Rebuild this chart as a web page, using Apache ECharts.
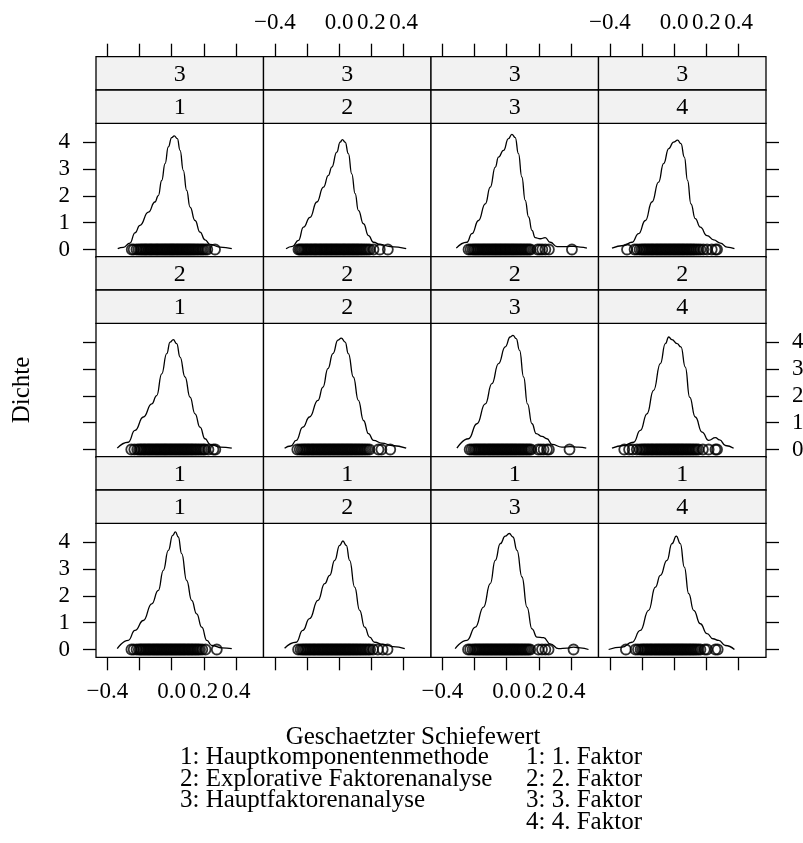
<!DOCTYPE html>
<html>
<head>
<meta charset="utf-8">
<script src="https://cdn.jsdelivr.net/npm/echarts@6/dist/echarts.min.js"></script>
<style>
html,body{margin:0;padding:0;background:#fff;}
#chart{width:803px;height:843px;}
</style>
</head>
<body>
<div id="chart"></div>
<script>
// ---------- labels ----------
const methodLabels = ['3', '2', '1'];          // strip 1, rows top -> bottom
const factorLabels = ['1', '2', '3', '4'];     // strip 2, columns left -> right
const xTicks = [-0.4, -0.2, 0, 0.2, 0.4];
const xTickLabels = [-0.4, 0, 0.2, 0.4];
const yTicks = [0, 1, 2, 3, 4];
const xTitle = 'Geschaetzter Schiefewert';
const yTitle = 'Dichte';
const methodKey = ['1: Hauptkomponentenmethode', '2: Explorative Faktorenanalyse', '3: Hauptfaktorenanalyse'];
const factorKey = ['1: 1. Faktor', '2: 2. Faktor', '3: 3. Faktor', '4: 4. Faktor'];

// ---------- density curves [x, density] ----------
const curveM3F1 = [[-0.335,0.03],[-0.3,0.08],[-0.259,0.24],[-0.228,0.62],[-0.197,0.9],[-0.145,1.39],[-0.104,1.77],[-0.083,2.01],[-0.062,2.57],[-0.041,3.2],[-0.021,3.82],[0.0,4.17],[0.016,4.23],[0.035,4.13],[0.052,3.69],[0.072,2.95],[0.093,2.2],[0.114,1.58],[0.145,1.08],[0.176,0.65],[0.207,0.36],[0.238,0.19],[0.3,0.09],[0.373,0.03]];
const curveM3F2 = [[-0.33,0.03],[-0.29,0.12],[-0.253,0.34],[-0.222,0.83],[-0.181,1.2],[-0.139,1.77],[-0.098,2.32],[-0.067,2.76],[-0.046,3.07],[-0.015,3.63],[0.006,4.0],[0.02,4.09],[0.037,4.0],[0.057,3.57],[0.078,2.82],[0.099,2.08],[0.119,1.46],[0.151,0.96],[0.182,0.52],[0.213,0.27],[0.254,0.19],[0.316,0.11],[0.416,0.03]];
const curveM3F3 = [[-0.313,0.05],[-0.247,0.27],[-0.216,0.59],[-0.175,1.08],[-0.133,1.7],[-0.102,2.32],[-0.071,3.07],[-0.051,3.44],[-0.02,3.69],[0.011,4.13],[0.032,4.29],[0.053,4.17],[0.073,3.57],[0.094,2.7],[0.115,1.83],[0.136,1.21],[0.157,0.71],[0.177,0.44],[0.208,0.4],[0.239,0.44],[0.27,0.27],[0.312,0.11],[0.374,0.11],[0.415,0.12],[0.457,0.09],[0.498,0.05]];
const curveM3F4 = [[-0.386,0.05],[-0.314,0.15],[-0.262,0.27],[-0.221,0.59],[-0.179,1.08],[-0.138,1.77],[-0.097,2.51],[-0.066,3.2],[-0.034,3.76],[-0.004,4.0],[0.021,4.07],[0.042,3.94],[0.063,3.44],[0.083,2.57],[0.104,1.7],[0.131,1.15],[0.162,0.83],[0.204,0.52],[0.245,0.36],[0.287,0.24],[0.328,0.09],[0.374,0.03]];
const curveM2F1 = [[-0.338,0.05],[-0.27,0.27],[-0.228,0.71],[-0.176,1.21],[-0.124,1.7],[-0.093,2.01],[-0.062,2.82],[-0.031,3.57],[-0.01,4.0],[0.01,4.09],[0.031,3.94],[0.052,3.44],[0.083,2.7],[0.114,1.95],[0.145,1.33],[0.176,0.83],[0.207,0.4],[0.238,0.19],[0.3,0.09],[0.373,0.05]];
const curveM2F2 = [[-0.339,0.05],[-0.3,0.13],[-0.267,0.34],[-0.226,0.83],[-0.184,1.21],[-0.132,1.83],[-0.101,2.32],[-0.07,3.01],[-0.039,3.57],[-0.008,4.07],[0.013,4.15],[0.037,4.0],[0.057,3.57],[0.088,2.7],[0.119,1.83],[0.151,1.08],[0.182,0.59],[0.213,0.34],[0.265,0.24],[0.327,0.15],[0.416,0.05]];
const curveM2F3 = [[-0.309,0.05],[-0.237,0.4],[-0.185,0.96],[-0.133,1.7],[-0.092,2.45],[-0.051,3.2],[-0.009,3.82],[0.022,4.19],[0.039,4.25],[0.059,4.13],[0.08,3.69],[0.105,2.7],[0.129,1.7],[0.157,0.96],[0.183,0.59],[0.219,0.49],[0.25,0.4],[0.281,0.19],[0.343,0.09],[0.395,0.11],[0.446,0.09],[0.494,0.05]];
const curveM2F4 = [[-0.386,0.05],[-0.314,0.15],[-0.252,0.27],[-0.21,0.71],[-0.169,1.33],[-0.128,2.2],[-0.086,3.2],[-0.055,3.94],[-0.034,4.19],[-0.014,4.09],[0.018,3.94],[0.042,3.82],[0.069,3.07],[0.096,1.95],[0.131,1.21],[0.173,0.65],[0.214,0.34],[0.256,0.44],[0.282,0.36],[0.318,0.15],[0.369,0.05]];
const curveM1F1 = [[-0.338,0.03],[-0.27,0.34],[-0.228,0.71],[-0.176,1.08],[-0.124,1.7],[-0.083,2.2],[-0.052,2.95],[-0.021,3.69],[0.006,4.25],[0.023,4.38],[0.041,4.19],[0.062,3.57],[0.093,2.57],[0.124,1.83],[0.155,1.33],[0.187,0.83],[0.218,0.34],[0.249,0.15],[0.311,0.06],[0.373,0.03]];
const curveM1F2 = [[-0.339,0.05],[-0.267,0.27],[-0.226,0.71],[-0.184,1.15],[-0.132,1.83],[-0.09,2.45],[-0.059,2.76],[-0.028,3.32],[0.003,3.88],[0.023,4.04],[0.044,3.88],[0.065,3.32],[0.096,2.32],[0.127,1.46],[0.158,0.83],[0.189,0.46],[0.22,0.27],[0.272,0.19],[0.334,0.11],[0.407,0.03]];
const curveM1F3 = [[-0.32,0.03],[-0.247,0.34],[-0.195,0.83],[-0.144,1.58],[-0.102,2.45],[-0.071,3.32],[-0.04,3.94],[-0.009,4.22],[0.016,4.32],[0.039,4.19],[0.064,3.69],[0.095,2.7],[0.126,1.58],[0.157,0.77],[0.188,0.46],[0.229,0.44],[0.27,0.21],[0.322,0.03],[0.374,0.05],[0.415,0.09],[0.457,0.06],[0.508,0.0]];
const curveM1F4 = [[-0.407,0.0],[-0.324,0.09],[-0.262,0.27],[-0.21,0.71],[-0.159,1.46],[-0.117,2.32],[-0.086,2.76],[-0.045,3.32],[-0.014,3.94],[0.013,4.22],[0.038,3.94],[0.063,3.07],[0.09,2.08],[0.121,1.46],[0.162,0.96],[0.204,0.59],[0.241,0.4],[0.276,0.34],[0.318,0.15],[0.374,0.0]];

// ---------- observed skewness estimates (points drawn at density 0) ----------
const ptsM3F1 = [-0.248,-0.236,-0.219,-0.207,-0.196,-0.188,-0.179,-0.171,-0.163,-0.156,-0.147,-0.139,-0.131,-0.124,-0.116,-0.108,-0.099,-0.092,-0.085,-0.077,-0.069,-0.061,-0.054,-0.046,-0.039,-0.031,-0.024,-0.016,-0.009,-0.002,0.005,0.012,0.019,0.027,0.034,0.041,0.049,0.056,0.064,0.071,0.079,0.087,0.094,0.102,0.109,0.117,0.125,0.133,0.141,0.15,0.159,0.168,0.178,0.188,0.197,0.209,0.221,0.269];
const ptsM3F2 = [-0.253,-0.244,-0.236,-0.228,-0.219,-0.211,-0.203,-0.195,-0.187,-0.178,-0.171,-0.162,-0.154,-0.147,-0.139,-0.131,-0.122,-0.115,-0.107,-0.099,-0.091,-0.083,-0.076,-0.068,-0.06,-0.052,-0.045,-0.037,-0.029,-0.021,-0.014,-0.006,0.002,0.01,0.018,0.026,0.033,0.041,0.049,0.057,0.065,0.073,0.081,0.089,0.097,0.105,0.113,0.121,0.13,0.139,0.148,0.158,0.168,0.179,0.19,0.213,0.252,0.302];
const ptsM3F3 = [-0.237,-0.224,-0.212,-0.203,-0.195,-0.186,-0.178,-0.17,-0.161,-0.153,-0.145,-0.137,-0.129,-0.121,-0.113,-0.105,-0.097,-0.089,-0.081,-0.073,-0.066,-0.058,-0.05,-0.042,-0.035,-0.027,-0.019,-0.011,-0.004,0.004,0.012,0.02,0.028,0.036,0.044,0.052,0.06,0.069,0.077,0.086,0.094,0.103,0.112,0.121,0.13,0.139,0.148,0.192,0.206,0.221,0.24,0.262,0.405];
const ptsM3F4 = [-0.293,-0.246,-0.231,-0.215,-0.203,-0.194,-0.185,-0.177,-0.168,-0.16,-0.151,-0.143,-0.135,-0.127,-0.118,-0.11,-0.102,-0.094,-0.086,-0.078,-0.07,-0.062,-0.054,-0.046,-0.038,-0.03,-0.022,-0.014,-0.006,0.002,0.01,0.018,0.026,0.034,0.042,0.05,0.058,0.066,0.075,0.083,0.092,0.1,0.109,0.118,0.127,0.138,0.15,0.163,0.181,0.204,0.233,0.256,0.266];
const ptsM2F1 = [-0.251,-0.232,-0.214,-0.203,-0.194,-0.186,-0.177,-0.169,-0.161,-0.152,-0.144,-0.136,-0.128,-0.12,-0.111,-0.103,-0.095,-0.087,-0.079,-0.071,-0.063,-0.055,-0.047,-0.04,-0.032,-0.024,-0.016,-0.008,0.0,0.008,0.016,0.024,0.032,0.04,0.048,0.056,0.064,0.072,0.08,0.088,0.096,0.104,0.113,0.121,0.129,0.138,0.147,0.156,0.166,0.176,0.187,0.198,0.207,0.228,0.259,0.271];
const ptsM2F2 = [-0.26,-0.245,-0.233,-0.224,-0.215,-0.207,-0.198,-0.19,-0.182,-0.173,-0.165,-0.157,-0.149,-0.14,-0.132,-0.124,-0.116,-0.108,-0.1,-0.092,-0.084,-0.076,-0.068,-0.06,-0.052,-0.044,-0.036,-0.028,-0.02,-0.012,-0.004,0.004,0.012,0.02,0.028,0.036,0.044,0.052,0.06,0.068,0.076,0.084,0.093,0.101,0.11,0.118,0.127,0.136,0.145,0.155,0.165,0.176,0.188,0.244,0.262,0.317];
const ptsM2F3 = [-0.23,-0.218,-0.206,-0.197,-0.189,-0.18,-0.172,-0.164,-0.155,-0.147,-0.139,-0.131,-0.122,-0.114,-0.106,-0.098,-0.09,-0.082,-0.074,-0.066,-0.058,-0.05,-0.042,-0.034,-0.026,-0.018,-0.01,-0.002,0.006,0.014,0.022,0.03,0.038,0.046,0.054,0.062,0.071,0.079,0.088,0.096,0.105,0.114,0.123,0.132,0.141,0.151,0.196,0.212,0.229,0.25,0.262,0.39];
const ptsM2F4 = [-0.31,-0.28,-0.258,-0.232,-0.214,-0.202,-0.193,-0.184,-0.176,-0.167,-0.159,-0.15,-0.142,-0.134,-0.126,-0.117,-0.109,-0.101,-0.093,-0.085,-0.077,-0.069,-0.061,-0.053,-0.045,-0.037,-0.029,-0.021,-0.013,-0.005,0.003,0.011,0.019,0.027,0.035,0.043,0.051,0.059,0.068,0.076,0.085,0.093,0.102,0.111,0.12,0.13,0.14,0.151,0.178,0.214,0.256,0.266];
const ptsM1F1 = [-0.25,-0.236,-0.218,-0.204,-0.195,-0.187,-0.178,-0.17,-0.161,-0.153,-0.145,-0.137,-0.129,-0.12,-0.112,-0.104,-0.096,-0.088,-0.08,-0.072,-0.064,-0.056,-0.048,-0.04,-0.032,-0.024,-0.016,-0.008,0.0,0.008,0.016,0.024,0.032,0.04,0.048,0.056,0.064,0.072,0.08,0.088,0.097,0.105,0.113,0.122,0.13,0.139,0.148,0.157,0.166,0.176,0.19,0.21,0.28];
const ptsM1F2 = [-0.255,-0.24,-0.229,-0.22,-0.211,-0.203,-0.194,-0.186,-0.178,-0.169,-0.161,-0.153,-0.145,-0.136,-0.128,-0.12,-0.112,-0.104,-0.096,-0.088,-0.08,-0.072,-0.064,-0.056,-0.048,-0.04,-0.032,-0.024,-0.016,-0.008,0.0,0.008,0.016,0.024,0.032,0.04,0.048,0.056,0.064,0.072,0.081,0.089,0.098,0.106,0.115,0.124,0.133,0.142,0.152,0.162,0.172,0.183,0.192,0.21,0.24,0.27,0.3];
const ptsM1F3 = [-0.24,-0.227,-0.212,-0.201,-0.192,-0.184,-0.175,-0.167,-0.159,-0.15,-0.142,-0.134,-0.126,-0.118,-0.11,-0.102,-0.094,-0.086,-0.078,-0.07,-0.062,-0.054,-0.046,-0.038,-0.03,-0.022,-0.014,-0.006,0.002,0.01,0.018,0.026,0.034,0.042,0.05,0.058,0.066,0.075,0.083,0.092,0.1,0.109,0.118,0.127,0.136,0.146,0.197,0.219,0.24,0.26,0.415];
const ptsM1F4 = [-0.3,-0.24,-0.225,-0.209,-0.199,-0.19,-0.182,-0.173,-0.165,-0.156,-0.148,-0.14,-0.132,-0.123,-0.115,-0.107,-0.099,-0.091,-0.083,-0.075,-0.067,-0.059,-0.051,-0.043,-0.035,-0.027,-0.019,-0.011,-0.003,0.005,0.013,0.021,0.029,0.037,0.045,0.053,0.061,0.069,0.078,0.086,0.095,0.103,0.112,0.121,0.13,0.14,0.151,0.163,0.19,0.204,0.256,0.27];

// panels: row 0 = method 3, row 1 = method 2, row 2 = method 1
const panelCurves = [
  [curveM3F1, curveM3F2, curveM3F3, curveM3F4],
  [curveM2F1, curveM2F2, curveM2F3, curveM2F4],
  [curveM1F1, curveM1F2, curveM1F3, curveM1F4]
];
const panelPoints = [
  [ptsM3F1, ptsM3F2, ptsM3F3, ptsM3F4],
  [ptsM2F1, ptsM2F2, ptsM2F3, ptsM2F4],
  [ptsM1F1, ptsM1F2, ptsM1F3, ptsM1F4]
];

// ---------- layout ----------
const FONT = "'Liberation Serif','Times New Roman',serif";
const LEFT = 96, TOP = 56.7, PW = 167.5, STRIP = 33.3, PH = 134, ROWP = 200;
const XMIN = -0.47, XMAX = 0.57, YMIN = -0.29, YMAX = 4.70;
const LW = 1.3;

function fmt(v) {
  return (v < 0 ? '\u2212' : '') + Math.abs(v).toFixed(1);
}

const grids = [], xAxes = [], yAxes = [], series = [], graphics = [];
for (let r = 0; r < 3; r++) {
  for (let c = 0; c < 4; c++) {
    const i = grids.length;
    const gl = LEFT + c * PW;
    const stripTop = TOP + r * ROWP;
    const gt = stripTop + 2 * STRIP;
    grids.push({
      left: gl, top: gt, width: PW, height: PH,
      show: true, borderColor: '#000', borderWidth: LW, backgroundColor: '#fff',
      containLabel: false, outerBoundsMode: 'none'
    });
    xAxes.push({
      gridIndex: i, type: 'value', min: XMIN, max: XMAX,
      position: r === 0 ? 'top' : 'bottom',
      offset: r === 0 ? 2 * STRIP : 0,
      axisLine: { show: false, onZero: false }, splitLine: { show: false },
      axisTick: { show: r !== 1, inside: false, length: 13, customValues: xTicks, lineStyle: { color: '#000', width: LW } },
      axisLabel: {
        show: (r === 0 && c % 2 === 1) || (r === 2 && c % 2 === 0),
        customValues: xTickLabels, formatter: fmt, margin: r === 0 ? 22 : 23,
        fontFamily: FONT, fontSize: 23, color: '#000'
      }
    });
    yAxes.push({
      gridIndex: i, type: 'value', min: YMIN, max: YMAX,
      position: c === 3 ? 'right' : 'left',
      axisLine: { show: false, onZero: false }, splitLine: { show: false },
      axisTick: { show: c === 0 || c === 3, inside: false, length: 13, customValues: yTicks, lineStyle: { color: '#000', width: LW } },
      axisLabel: {
        show: (c === 0 && r !== 1) || (c === 3 && r === 1),
        customValues: yTicks, formatter: v => String(v), margin: 26,
        fontFamily: FONT, fontSize: 23, color: '#000'
      }
    });
    series.push({
      type: 'line', xAxisIndex: i, yAxisIndex: i,
      data: panelCurves[r][c], smooth: 0.5, smoothMonotone: 'x',
      symbol: 'none', showSymbol: false, silent: true,
      lineStyle: { color: '#000', width: LW }
    });
    series.push({
      type: 'scatter', xAxisIndex: i, yAxisIndex: i,
      data: panelPoints[r][c].map(v => [v, 0]),
      symbol: 'circle', symbolSize: 10, silent: true,
      itemStyle: { color: 'rgba(0,0,0,0)', borderColor: '#000', borderWidth: 1.8 }
    });
    // strips
    [methodLabels[r], factorLabels[c]].forEach((lab, k) => {
      graphics.push({
        type: 'rect', silent: true,
        shape: { x: gl, y: stripTop + k * STRIP, width: PW, height: STRIP },
        style: { fill: '#f2f2f2', stroke: '#000', lineWidth: LW }
      });
      graphics.push({
        type: 'text', silent: true,
        x: gl + PW / 2, y: stripTop + k * STRIP + STRIP / 2 + 1,
        style: { text: lab, font: '24px ' + FONT, fill: '#000', textAlign: 'center', textVerticalAlign: 'middle' }
      });
    });
  }
}

// axis titles and key
graphics.push({
  type: 'text', silent: true, x: 22, y: 390, rotation: Math.PI / 2,
  style: { text: yTitle, font: '25px ' + FONT, fill: '#000', textAlign: 'center', textVerticalAlign: 'middle' }
});
graphics.push({
  type: 'text', silent: true, x: 413, y: 737,
  style: { text: xTitle, font: '25px ' + FONT, fill: '#000', textAlign: 'center', textVerticalAlign: 'middle' }
});
const keyY0 = 757.5, keyDY = 21.5;
methodKey.forEach((t, k) => graphics.push({
  type: 'text', silent: true, x: 180, y: keyY0 + k * keyDY,
  style: { text: t, font: '25px ' + FONT, fill: '#000', textAlign: 'left', textVerticalAlign: 'middle' }
}));
factorKey.forEach((t, k) => graphics.push({
  type: 'text', silent: true, x: 526, y: keyY0 + k * keyDY,
  style: { text: t, font: '25px ' + FONT, fill: '#000', textAlign: 'left', textVerticalAlign: 'middle' }
}));

const chart = echarts.init(document.getElementById('chart'), null, { renderer: 'canvas' });
chart.setOption({
  animation: false,
  backgroundColor: '#fff',
  grid: grids, xAxis: xAxes, yAxis: yAxes, series: series,
  graphic: graphics
});
</script>
</body>
</html>
